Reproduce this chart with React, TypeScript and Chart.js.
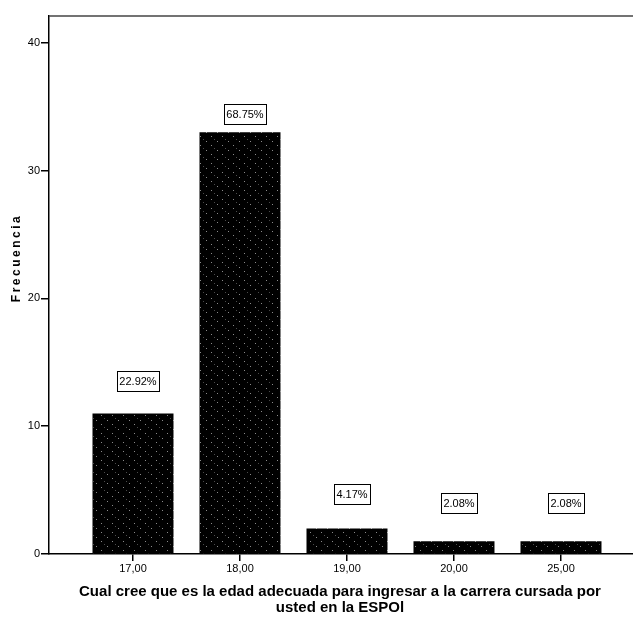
import React, { useEffect, useRef } from "react";
import { Chart, registerables } from "chart.js";

Chart.register(...registerables);

const categories = ["17,00", "18,00", "19,00", "20,00", "25,00"];
const frequencies = [11, 33, 2, 1, 1];
const percentLabels = ["22.92%", "68.75%", "4.17%", "2.08%", "2.08%"];
const yTicks = [0, 10, 20, 30, 40];
const yTitle = "Frecuencia";
const xTitle = [
  "Cual cree que es la edad adecuada para ingresar a la carrera cursada por",
  "usted en la ESPOl",
];

const FONT = "'Liberation Sans', Arial, sans-serif";

function makePattern(): CanvasPattern | string {
  const c = document.createElement("canvas");
  c.width = 11;
  c.height = 9;
  const g = c.getContext("2d");
  if (!g) return "#000";
  g.fillStyle = "#000";
  g.fillRect(0, 0, 11, 9);
  g.fillStyle = "#8a8a8a";
  g.fillRect(2, 1, 1, 1);
  g.fillRect(8, 6, 1, 1);
  g.fillStyle = "#4a4a4a";
  g.fillRect(5, 4, 1, 1);
  const p = g.createPattern(c, "repeat");
  return p || "#000";
}

const labelGaps = [22, 8, 24, 28, 28];

const overlayPlugin = {
  id: "overlay",
  afterDatasetsDraw(chart: any) {
    const ctx = chart.ctx as CanvasRenderingContext2D;
    const area = chart.chartArea;
    ctx.save();
    // top frame line
    ctx.strokeStyle = "#444";
    ctx.lineWidth = 1.5;
    ctx.beginPath();
    ctx.moveTo(area.left, area.top);
    ctx.lineTo(area.right, area.top);
    ctx.stroke();

    // value boxes
    const meta = chart.getDatasetMeta(0);
    ctx.font = `11px ${FONT}`;
    ctx.textAlign = "center";
    ctx.textBaseline = "middle";
    meta.data.forEach((bar: any, i: number) => {
      const text = percentLabels[i];
      const w = ctx.measureText(text).width + 5;
      const h = 20;
      const cx = bar.x + 5;
      const bottom = bar.y - labelGaps[i];
      const top = bottom - h;
      ctx.fillStyle = "#fff";
      ctx.fillRect(Math.round(cx - w / 2) + 0.5, Math.round(top) + 0.5, Math.round(w), h);
      ctx.strokeStyle = "#000";
      ctx.lineWidth = 1;
      ctx.strokeRect(Math.round(cx - w / 2) + 0.5, Math.round(top) + 0.5, Math.round(w), h);
      ctx.fillStyle = "#000";
      ctx.fillText(text, cx, top + h / 2 + 1);
    });

    // y title
    ctx.save();
    ctx.translate(17, (area.top + area.bottom) / 2 - 27);
    ctx.rotate(-Math.PI / 2);
    ctx.font = `bold 12px ${FONT}`;
    (ctx as any).letterSpacing = "2.5px";
    ctx.fillStyle = "#000";
    ctx.textAlign = "center";
    ctx.textBaseline = "middle";
    ctx.fillText(yTitle, 0, 0);
    ctx.restore();

    // x title
    ctx.font = `bold 15px ${FONT}`;
    ctx.fillStyle = "#000";
    ctx.textAlign = "center";
    ctx.textBaseline = "middle";
    const cxT = (area.left + area.right) / 2 - 1;
    ctx.fillText(xTitle[0], cxT, 592);
    ctx.fillText(xTitle[1], cxT, 608);
    ctx.restore();
  },
};

export default function App() {
  const ref = useRef<HTMLCanvasElement | null>(null);

  useEffect(() => {
    if (!ref.current) return;
    const pattern = makePattern();
    const chart = new Chart(ref.current, {
      type: "bar",
      data: {
        datasets: [
          {
            data: frequencies.map((v, i) => ({ x: i, y: v })),
            backgroundColor: pattern as any,
            borderWidth: 0,
            barPercentage: 0.757,
            categoryPercentage: 1,
          },
        ],
      },
      options: {
        animation: false,
        responsive: false,
        devicePixelRatio: 1,
        layout: { padding: { top: 16, right: 0, left: 0, bottom: 0 } },
        plugins: {
          legend: { display: false },
          tooltip: { enabled: false },
        },
        scales: {
          x: {
            type: "linear",
            offset: false,
            min: -0.785,
            max: 4.673,
            afterBuildTicks: (scale: any) => {
              scale.ticks = categories.map((_, i) => ({ value: i }));
            },
            afterFit: (scale: any) => {
              scale.height = 69;
            },
            ticks: {
              callback: (v: any) => categories[Math.round(Number(v))] ?? "",
              color: "#000",
              font: { family: FONT, size: 11 },
              padding: 1,
              maxRotation: 0,
              autoSkip: false,
            },
            grid: {
              display: true,
              offset: false,
              drawOnChartArea: false,
              drawTicks: true,
              tickLength: 7,
              color: "#000",
              lineWidth: 1.5,
            },
            border: { display: true, color: "#000", width: 1.5 },
          },
          y: {
            type: "linear",
            min: 0,
            max: 42.1,
            afterBuildTicks: (scale: any) => {
              scale.ticks = yTicks.map((v) => ({ value: v }));
            },
            afterFit: (scale: any) => {
              scale.width = 49;
            },
            ticks: {
              color: "#000",
              font: { family: FONT, size: 11 },
              padding: 1,
            },
            grid: {
              display: true,
              drawOnChartArea: false,
              drawTicks: true,
              tickLength: 8,
              color: "#000",
              lineWidth: 1.5,
            },
            border: { display: true, color: "#000", width: 1.5 },
          },
        },
      },
      plugins: [overlayPlugin],
    } as any);
    return () => chart.destroy();
  }, []);

  return (
    <div style={{ position: "absolute", left: 0, top: 0, width: 633, height: 623, background: "#fff" }}>
      <canvas ref={ref} width={633} height={623} style={{ display: "block", width: 633, height: 623 }} />
    </div>
  );
}
